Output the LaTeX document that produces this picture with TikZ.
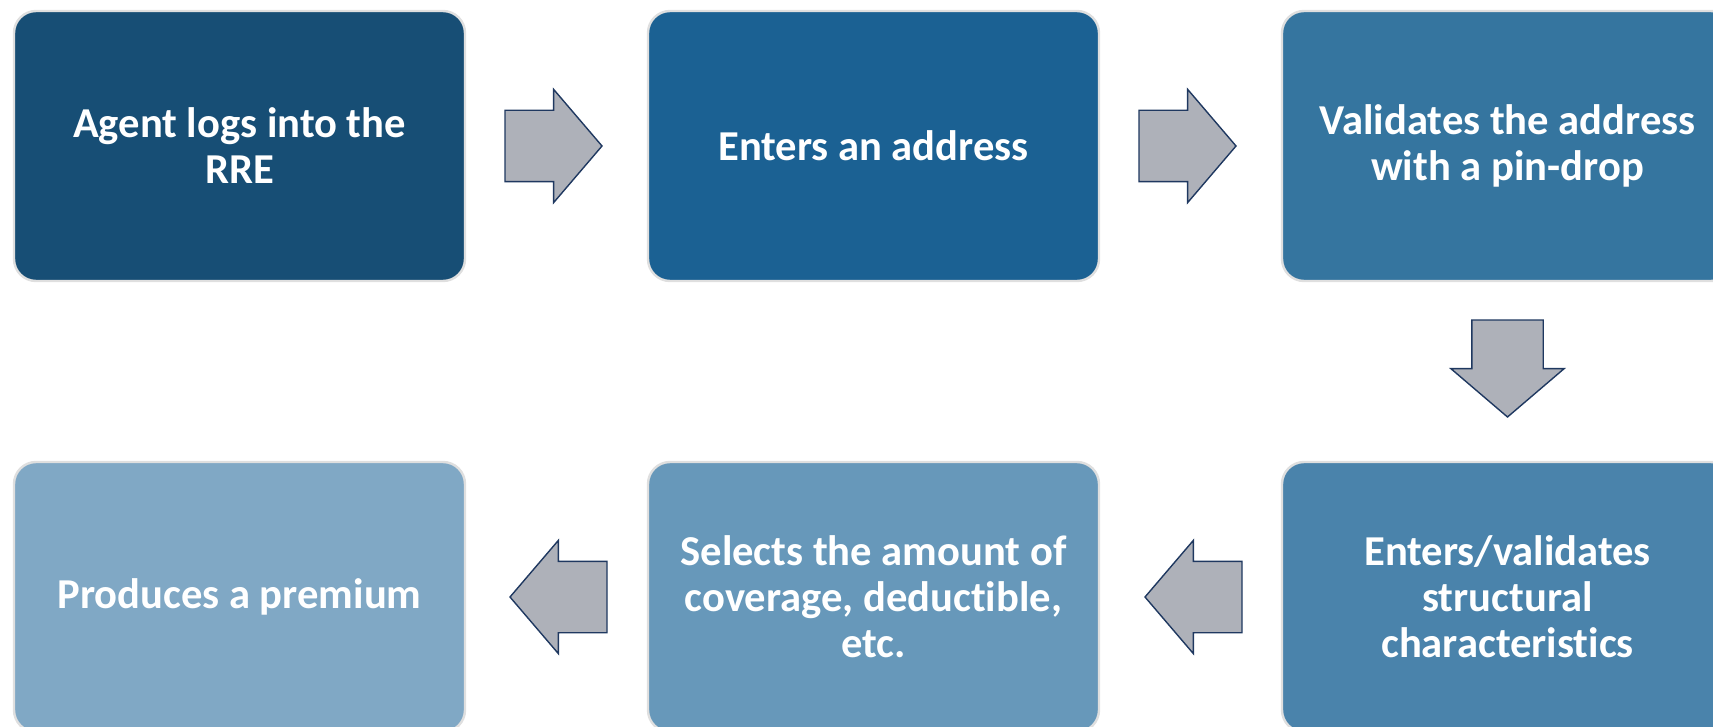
\documentclass[tikz,border=0pt]{standalone}
\usepackage{fontspec}
\setmainfont{Carlito}[Ligatures=NoCommon]
\usetikzlibrary{positioning,shapes.arrows}
\definecolor{stepA}{RGB}{23,78,117}
\definecolor{stepB}{RGB}{27,97,147}
\definecolor{stepC}{RGB}{53,117,159}
\definecolor{stepD}{RGB}{74,131,171}
\definecolor{stepE}{RGB}{103,152,186}
\definecolor{stepF}{RGB}{128,168,197}
\definecolor{arrfill}{RGB}{174,177,185}
\definecolor{arrline}{RGB}{31,56,96}
\tikzset{
    stepbox/.style={draw=gray!25, line width=1.2pt, outer sep=0pt, rounded corners=11pt, minimum width=225.5pt, minimum height=135pt, align=center, text=white, font=\fontsize{21.3}{23}\selectfont\bfseries},
    blkarrow/.style={single arrow, draw=arrline, fill=arrfill, line width=0.7pt, inner xsep=0pt, inner ysep=17.5pt, outer sep=0pt, single arrow head extend=10.5pt, single arrow tip angle=99, minimum height=48.5pt, anchor=tail}
}
\begin{document}
\begin{tikzpicture}
    \useasboundingbox (0,0) rectangle (856.5pt,-363.5pt);
    \node[stepbox, fill=stepA] (b1) at (119.75pt,-73pt) {Agent logs into the\\RRE};
    \node[stepbox, fill=stepB, right=91.5pt of b1] (b2) {Enters an address};
    \node[stepbox, fill=stepC, right=91.5pt of b2] (b3) {Validates the address\\with a pin-drop};
    \node[stepbox, fill=stepD, below=90.5pt of b3] (b4) {Enters/validates\\structural\\characteristics};
    \node[stepbox, fill=stepE, left=91.5pt of b4] (b5) {Selects the amount of\\coverage, deductible,\\etc.};
    \node[stepbox, fill=stepF, left=91.5pt of b5] (b6) {Produces a premium};

    \node[blkarrow] (a1) at ([xshift=20pt]b1.east) {};
    \node[blkarrow] (a2) at ([xshift=20pt]b2.east) {};
    \node[blkarrow, rotate=-90] (a3) at ([yshift=-19.5pt]b3.south) {};
    \node[blkarrow, rotate=180] (a4) at ([xshift=-20pt]b4.west) {};
    \node[blkarrow, rotate=180] (a5) at ([xshift=-20.5pt]b5.west) {};
\end{tikzpicture}
\end{document}
